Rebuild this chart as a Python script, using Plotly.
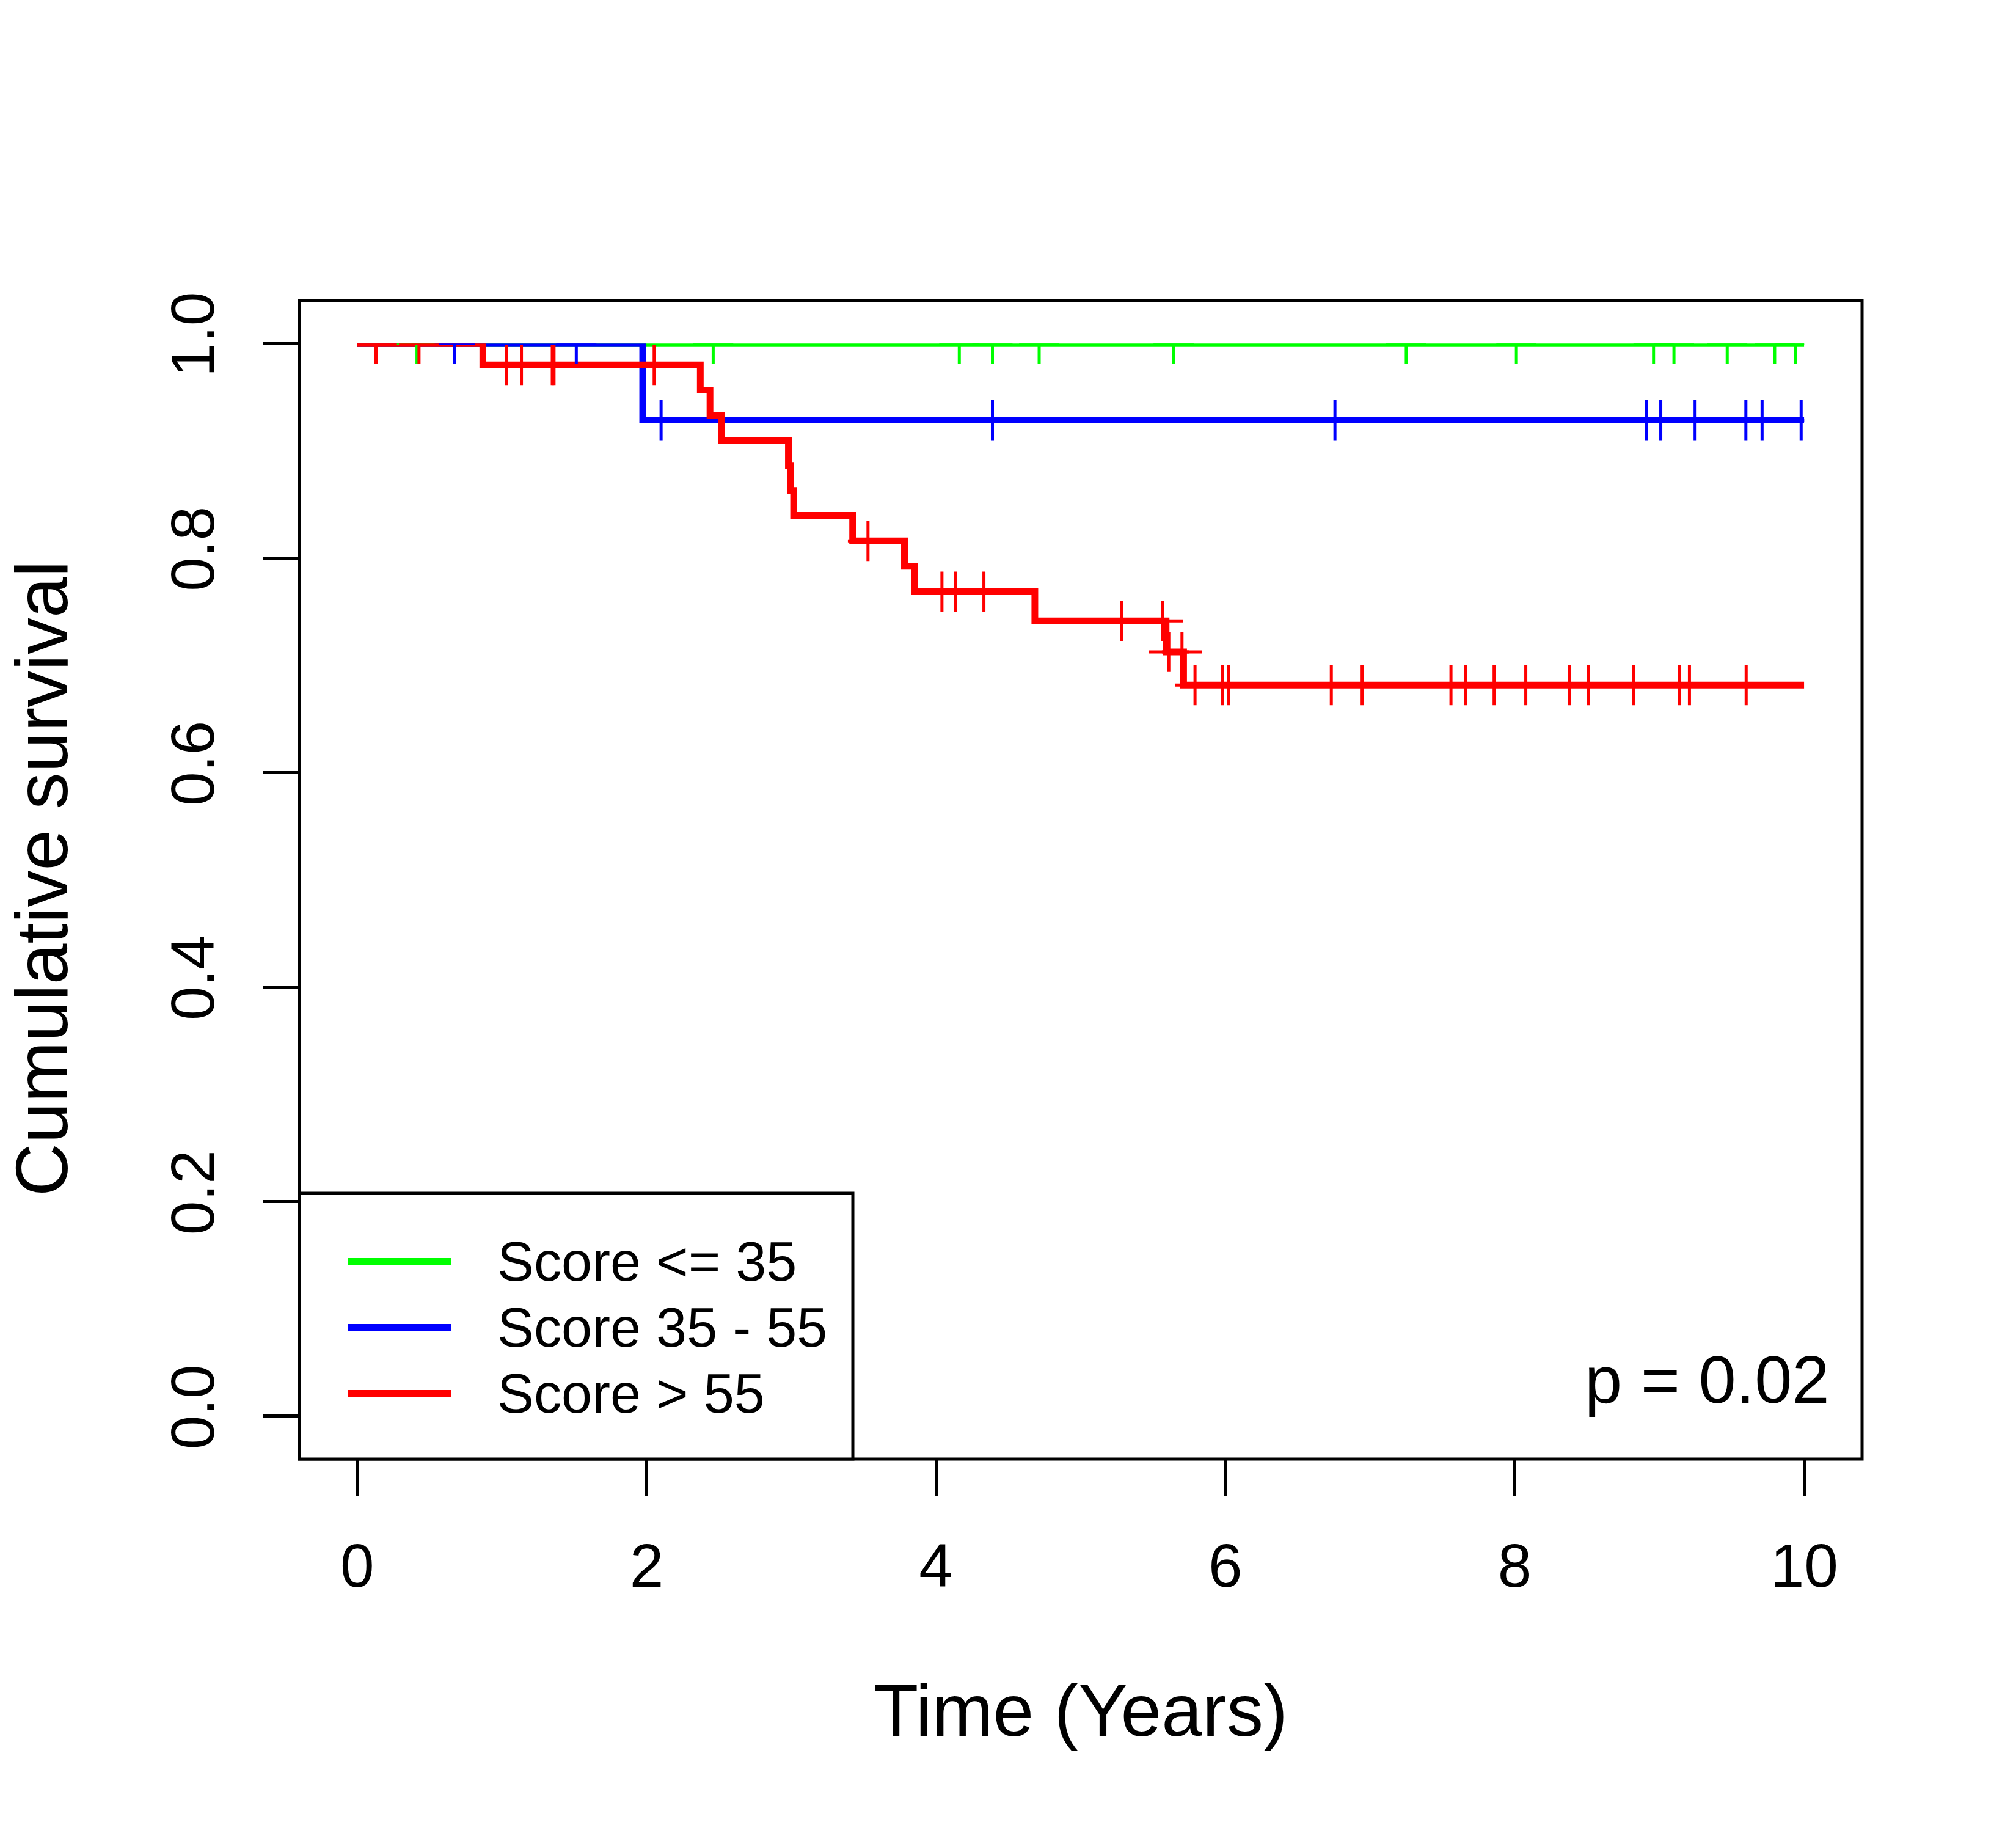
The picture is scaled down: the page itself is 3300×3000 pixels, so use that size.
import plotly.graph_objects as go

# ---------------- data ----------------
x_ticks = [0, 2, 4, 6, 8, 10]
y_ticks = [0.0, 0.2, 0.4, 0.6, 0.8, 1.0]

green_time = [0.0, 10.0]
green_surv = [1.0, 1.0]
green_censor = [0.413, 2.46, 4.161, 4.39, 4.713, 5.642, 7.25, 8.011, 8.959, 9.10, 9.468, 9.796, 9.94]

blue_time = [0.0, 1.973, 10.0]
blue_surv = [1.0, 0.9286, 0.9286]
blue_censor = [0.674, 1.514, 2.10, 4.39, 6.757, 8.908, 9.009, 9.246, 9.597, 9.709, 9.979]

red_time = [0.0, 0.868, 2.371, 2.438, 2.519, 2.980, 2.995, 3.016, 3.424, 3.782, 3.853,
            4.683, 5.590, 5.711, 10.0]
red_surv = [1.0, 0.980, 0.9565, 0.9328, 0.9096, 0.8863, 0.8630, 0.8398, 0.8160, 0.7923,
            0.7686, 0.7414, 0.7125, 0.6815, 0.6815]
red_censor = [0.130, 0.427, 1.033, 1.135, 1.348, 1.360, 2.052, 3.530, 4.041, 4.135, 4.331,
              5.282, 5.567, 5.609, 5.700, 5.790, 5.978, 6.020, 6.732, 6.945, 7.559, 7.661,
              7.857, 8.076, 8.377, 8.509, 8.822, 9.139, 9.207, 9.599]

legend_labels = ["Score <= 35", "Score 35 - 55", "Score > 55"]
p_text = "p = 0.02"
x_title = "Time (Years)"
y_title = "Cumulative survival"

# ---------------- styling ----------------
W, H = 3300, 3000
OFF = 8                                    # page body margin
L, R, T, B = 490, 3048, 492, 2388          # plot box in page pixels
FONT = "Liberation Sans"
colors = {"green": "#00FF00", "blue": "#0000FF", "red": "#FF0000"}
box_x = [-0.4, 10.4]       # full box extent in data units
box_y = [-0.04, 1.04]
clip_x = [0.0, 10.0]       # curves are clipped to the data region
clip_y = [-0.04, 1.0]
x_domain = [(clip_x[0] - box_x[0]) / (box_x[1] - box_x[0]),
            (clip_x[1] - box_x[0]) / (box_x[1] - box_x[0])]
y_domain = [(clip_y[0] - box_y[0]) / (box_y[1] - box_y[0]),
            (clip_y[1] - box_y[0]) / (box_y[1] - box_y[0])]


def surv_at(t, times, surv):
    v = surv[0]
    for ti, si in zip(times, surv):
        if ti <= t:
            v = si
    return v


def px_x(p):
    return (p - L) / (R - L)


def px_y(p):
    return (B - p) / (B - T)


def esc(s):
    return s.replace("&", "&amp;").replace("<", "&lt;").replace(">", "&gt;")


fig = go.Figure()

groups = [
    ("green", green_time, green_surv, green_censor),
    ("blue", blue_time, blue_surv, blue_censor),
    ("red", red_time, red_surv, red_censor),
]

for name, tt, ss, cc in groups:
    fig.add_trace(go.Scatter(
        x=tt, y=ss, mode="lines",
        line=dict(shape="hv", width=11, color=colors[name]),
        cliponaxis=True, showlegend=False, hoverinfo="skip",
    ))
for name, tt, ss, cc in groups:
    fig.add_trace(go.Scatter(
        x=cc, y=[surv_at(c, tt, ss) for c in cc], mode="markers",
        marker=dict(symbol="cross-thin", size=47, color=colors[name],
                    line=dict(width=5, color=colors[name])),
        cliponaxis=True, showlegend=False, hoverinfo="skip",
    ))

axis_common = dict(
    showgrid=False, zeroline=False, showline=False,
    ticks="outside", ticklen=60, tickwidth=5, tickcolor="black",
    tickfont=dict(family=FONT, size=100, color="black"),
)

fig.update_layout(
    width=W, height=H, autosize=False,
    margin=dict(l=L - OFF, r=W - (R - OFF), t=T - OFF, b=H - (B - OFF), pad=0),
    paper_bgcolor="white", plot_bgcolor="white",
    showlegend=False,
    xaxis=dict(range=clip_x, domain=x_domain, tickvals=x_ticks,
               ticktext=[str(v) for v in x_ticks], anchor="y",
               ticklabelstandoff=28, **axis_common),
    yaxis=dict(range=clip_y, domain=y_domain, tickvals=y_ticks,
               ticktext=[f"{v:.1f}" for v in y_ticks], tickangle=-90,
               anchor="free", position=0, ticklabelstandoff=40, **axis_common),
)

# plot box
fig.add_shape(type="rect", xref="paper", yref="paper", x0=0, x1=1, y0=0, y1=1,
              line=dict(color="black", width=5), layer="above")

# legend box and samples
leg_box = (490, 1953, 1396, 2388)
fig.add_shape(type="rect", xref="paper", yref="paper",
              x0=px_x(leg_box[0]), x1=px_x(leg_box[2]),
              y0=px_y(leg_box[3]), y1=px_y(leg_box[1]),
              line=dict(color="black", width=5), fillcolor="white", layer="above")
leg_rows = [2065, 2173, 2281]
for (name, *_), lab, yy in zip(groups, legend_labels, leg_rows):
    fig.add_shape(type="line", xref="paper", yref="paper",
                  x0=px_x(569), x1=px_x(738), y0=px_y(yy), y1=px_y(yy),
                  line=dict(color=colors[name], width=12), layer="above")
    fig.add_annotation(xref="paper", yref="paper", x=px_x(812), y=px_y(yy),
                       xanchor="left", yanchor="middle", showarrow=False,
                       text=esc(lab), font=dict(family=FONT, size=90, color="black"))

# p-value
fig.add_annotation(xref="paper", yref="paper", x=px_x(2997), y=px_y(2257),
                   xanchor="right", yanchor="middle", showarrow=False,
                   text=p_text, font=dict(family=FONT, size=110, color="black"))

# axis titles
fig.add_annotation(xref="paper", yref="paper", x=px_x(1769), y=px_y(2799),
                   xanchor="center", yanchor="middle", showarrow=False,
                   text=x_title, font=dict(family=FONT, size=120, color="black"))
fig.add_annotation(xref="paper", yref="paper", x=px_x(68), y=px_y(1438),
                   xanchor="center", yanchor="middle", showarrow=False, textangle=-90,
                   text=y_title, font=dict(family=FONT, size=120, color="black"))

fig.write_html("out.html")
